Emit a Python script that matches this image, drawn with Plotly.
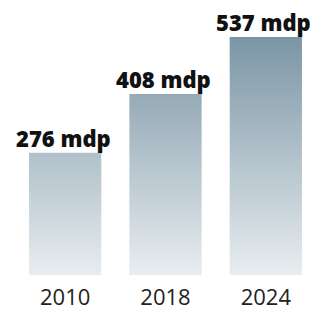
import plotly.graph_objects as go

years = ["2010", "2018", "2024"]
values = [276, 408, 537]
labels = ["276 mdp", "408 mdp", "537 mdp"]

bar_half = 0.36
xs, ys = [], []
for i, v in enumerate(values):
    xs += [i - bar_half, i - bar_half, i + bar_half, i + bar_half, i - bar_half, None]
    ys += [0, v, v, 0, 0, None]

fig = go.Figure()
fig.add_trace(go.Scatter(
    x=xs, y=ys, mode="lines", fill="toself",
    line=dict(width=0, color="rgba(0,0,0,0)"),
    fillgradient=dict(type="vertical", start=0, stop=max(values),
                      colorscale=[[0, "#e8edf0"], [1, "#7b95a5"]]),
    hoverinfo="skip", showlegend=False,
))

for i, (v, t) in enumerate(zip(values, labels)):
    fig.add_annotation(x=i, y=v, text=t, showarrow=False, yanchor="bottom",
                       xanchor="center", yshift=-1, xshift=-2, borderpad=0,
                       font=dict(family="Open Sans", size=22, color="#111111", weight=900))

fig.update_layout(
    width=310, height=303,
    margin=dict(l=7, r=2, t=1, b=36),
    plot_bgcolor="white", paper_bgcolor="white",
    xaxis=dict(range=[-0.5, 2.5], tickvals=list(range(len(years))), ticktext=years,
               showgrid=False, zeroline=False, showline=False, ticks="",
               ticklabelstandoff=7,
               tickfont=dict(family="Open Sans", size=22, color="#222222"), fixedrange=True),
    yaxis=dict(range=[0, 600], visible=False, fixedrange=True),
    showlegend=False,
)
fig.write_html("out.html")
